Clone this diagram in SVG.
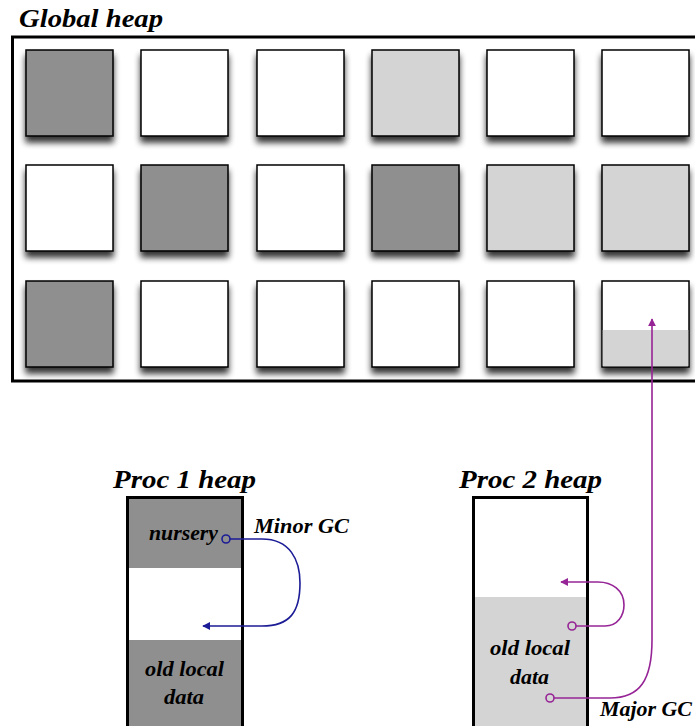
<svg xmlns="http://www.w3.org/2000/svg" width="695" height="726" viewBox="0 0 695 726">
  <style>
    .title { font-family: "Liberation Serif", "Times New Roman", serif; font-weight: bold; font-style: italic; font-size: 26px; fill: #000; }
    .label { font-family: "Liberation Serif", "Times New Roman", serif; font-weight: bold; font-style: italic; font-size: 21px; fill: #000; }
    .frame { fill: none; stroke: #000; stroke-width: 3; }
    .cell { stroke: #000; stroke-width: 1.5; filter: url(#shadow); }
    .dark { fill: #8f8f8f; }
    .light { fill: #d4d4d4; }
    .white { fill: #fff; }
    .minor { fill: none; stroke: #1c1c96; stroke-width: 1.6; }
    .major { fill: none; stroke: #962496; stroke-width: 1.6; }
  </style>
  <defs>
    <filter id="shadow" x="-20%" y="-20%" width="150%" height="150%">
      <feGaussianBlur in="SourceAlpha" stdDeviation="3"/>
      <feOffset dx="0" dy="6" result="b"/>
      <feComponentTransfer><feFuncA type="linear" slope="0.8"/></feComponentTransfer>
      <feMerge><feMergeNode/><feMergeNode in="SourceGraphic"/></feMerge>
    </filter>
    <marker id="arrowBlue" viewBox="0 0 10 10" refX="9" refY="5" markerWidth="8" markerHeight="8" orient="auto" markerUnits="userSpaceOnUse">
      <path d="M0,0 L10,5 L0,10 Z" fill="#1c1c96"/>
    </marker>
    <marker id="arrowPurple" viewBox="0 0 10 10" refX="9" refY="5" markerWidth="8" markerHeight="8" orient="auto" markerUnits="userSpaceOnUse">
      <path d="M0,0 L10,5 L0,10 Z" fill="#962496"/>
    </marker>
  </defs>

  <rect width="695" height="726" fill="#fff"/>

  <!-- Global heap -->
  <g id="global-heap">
    <text class="title" x="19" y="27" textLength="144" lengthAdjust="spacingAndGlyphs">Global heap</text>
    <path class="frame" d="M700,37 H12.5 V381 H700"/>
    <!-- row 1 -->
    <rect class="cell dark" x="26" y="50" width="87" height="86"/>
    <rect class="cell white" x="141" y="50" width="87" height="86"/>
    <rect class="cell white" x="257" y="50" width="87" height="86"/>
    <rect class="cell light" x="372" y="50" width="87" height="86"/>
    <rect class="cell white" x="487" y="50" width="87" height="86"/>
    <rect class="cell white" x="602" y="50" width="87" height="86"/>
    <!-- row 2 -->
    <rect class="cell white" x="26" y="165" width="87" height="86"/>
    <rect class="cell dark" x="141" y="165" width="87" height="86"/>
    <rect class="cell white" x="257" y="165" width="87" height="86"/>
    <rect class="cell dark" x="372" y="165" width="87" height="86"/>
    <rect class="cell light" x="487" y="165" width="87" height="86"/>
    <rect class="cell light" x="602" y="165" width="87" height="86"/>
    <!-- row 3 -->
    <rect class="cell dark" x="26" y="281" width="87" height="86"/>
    <rect class="cell white" x="141" y="281" width="87" height="86"/>
    <rect class="cell white" x="257" y="281" width="87" height="86"/>
    <rect class="cell white" x="372" y="281" width="87" height="86"/>
    <rect class="cell white" x="487" y="281" width="87" height="86"/>
    <rect class="cell white" x="602" y="281" width="87" height="86"/>
    <rect class="light" x="602.75" y="330" width="85.5" height="36.25"/>
  </g>

  <!-- Proc 1 heap -->
  <g id="proc1-heap">
    <text class="title" x="113" y="488" textLength="143" lengthAdjust="spacingAndGlyphs">Proc 1 heap</text>
    <rect class="dark" x="127" y="497" width="116" height="71"/>
    <rect class="dark" x="127" y="640" width="116" height="90"/>
    <path class="frame" d="M127.5,730 V497.5 H242.5 V730"/>
    <text class="label" x="149" y="540" textLength="69" lengthAdjust="spacingAndGlyphs">nursery</text>
    <text class="label" x="145" y="676" textLength="79" lengthAdjust="spacingAndGlyphs">old local</text>
    <text class="label" x="164" y="704" textLength="40" lengthAdjust="spacingAndGlyphs">data</text>
  </g>

  <!-- Proc 2 heap -->
  <g id="proc2-heap">
    <text class="title" x="459" y="488" textLength="143" lengthAdjust="spacingAndGlyphs">Proc 2 heap</text>
    <rect class="light" x="472" y="597" width="116" height="133"/>
    <path class="frame" d="M473.5,730 V497.5 H587.5 V730"/>
    <text class="label" x="490" y="655" textLength="80" lengthAdjust="spacingAndGlyphs">old local</text>
    <text class="label" x="510" y="684" textLength="39" lengthAdjust="spacingAndGlyphs">data</text>
  </g>

  <!-- Connectors -->
  <g id="connectors">
    <!-- minor GC: nursery to free space of Proc 1 -->
    <circle cx="226" cy="539" r="4" fill="none" stroke="#1c1c96" stroke-width="1.6"/>
    <path class="minor" d="M230,539 H262 C290,539 300,560 300,583 C300,612 290,626 262,626 H203" marker-end="url(#arrowBlue)"/>
    <!-- Proc 2: old local data to free space -->
    <circle cx="572" cy="626" r="4" fill="none" stroke="#962496" stroke-width="1.6"/>
    <path class="major" d="M576,626 H605 C618,626 624,615 624,605 C624,590 612,582 598,582 H561" marker-end="url(#arrowPurple)"/>
    <!-- major GC: Proc 2 to global heap -->
    <circle cx="550" cy="698" r="4" fill="none" stroke="#962496" stroke-width="1.6"/>
    <path class="major" d="M554,698 H610 C640,698 652,680 652,640 V319" marker-end="url(#arrowPurple)"/>
    <text class="label" x="600" y="716" textLength="92" lengthAdjust="spacingAndGlyphs">Major GC</text>
    <text class="label" x="254" y="533" textLength="95" lengthAdjust="spacingAndGlyphs">Minor GC</text>
  </g>
</svg>
